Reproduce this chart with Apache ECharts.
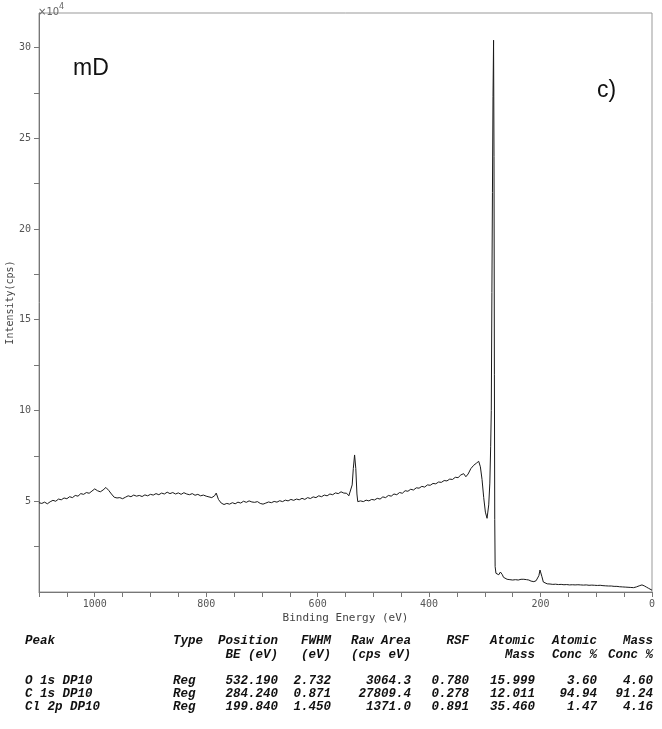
<!DOCTYPE html>
<html>
<head>
<meta charset="utf-8">
<script src="https://cdn.jsdelivr.net/npm/echarts@6/dist/echarts.min.js"></script>
<style>
html,body{margin:0;padding:0;background:#fff;}
#chart{width:662px;height:729px;}
</style>
</head>
<body>
<div id="chart"></div>
<script>
// Spectrum: binding energy (eV) and intensity (x10^4 cps)
const bindingEnergy = [1100,1095,1090,1085,1080,1075,1070,1065,1060,1055,1050,1045,1040,1035,1030,1025,1020,1015,1010,1005,1000,995,990,985,980,975,970,965,960,955,950,945,940,935,930,925,920,915,910,905,900,895,890,885,880,875,870,865,860,855,850,845,840,835,830,825,820,815,810,805,800,795,790,785,782,778,773,768,763,758,753,748,743,738,733,728,723,718,713,708,703,698,693,688,683,678,673,668,663,658,653,648,643,638,633,628,623,618,613,608,603,598,593,588,583,578,573,568,563,558,553,548,544,541,538,536,533.7,531.5,529.5,528,523,518,513,508,503,498,493,488,483,478,473,468,463,458,453,448,443,438,433,428,423,418,413,408,403,398,393,388,383,378,373,368,363,358,353,348,343,338,334,330,325,320,315,311,308,305,302,299,296,293,291,289.5,288.4,287.3,286.3,285.3,284.3,283.5,282.8,282.2,281.5,280,278,275,272,270.5,268.5,266.5,263,260,255,250,245,240,235,230,225,221,217,212,208,205,203,201,199.5,197.5,195,193,188,183,178,173,168,163,158,153,148,143,138,133,128,123,118,113,108,103,98,93,88,83,78,73,68,63,58,53,48,43,38,33,28,23,18,14,10,6,3,0];
const intensity = [4.92,4.88,4.95,4.86,4.97,5.05,5.0,5.12,5.08,5.18,5.14,5.25,5.2,5.32,5.28,5.42,5.38,5.48,5.44,5.56,5.68,5.58,5.52,5.62,5.76,5.6,5.4,5.22,5.18,5.2,5.14,5.22,5.3,5.25,5.34,5.28,5.32,5.26,5.35,5.3,5.38,5.34,5.42,5.36,5.45,5.4,5.5,5.42,5.48,5.4,5.46,5.38,5.47,5.4,5.36,5.42,5.33,5.38,5.3,5.34,5.28,5.24,5.2,5.3,5.45,5.1,4.9,4.82,4.88,4.84,4.92,4.86,4.95,4.9,5.0,4.94,5.02,4.96,4.94,4.98,4.88,4.84,4.9,4.96,4.92,4.99,4.95,5.03,4.98,5.06,5.02,5.1,5.05,5.12,5.08,5.16,5.1,5.2,5.15,5.24,5.2,5.3,5.25,5.34,5.3,5.4,5.36,5.46,5.42,5.52,5.45,5.44,5.3,5.26,5.9,6.8,7.55,6.8,5.4,4.98,5.02,4.98,5.06,5.02,5.1,5.07,5.16,5.12,5.24,5.2,5.32,5.28,5.4,5.36,5.48,5.44,5.58,5.55,5.66,5.62,5.74,5.72,5.82,5.78,5.9,5.88,5.98,5.96,6.06,6.04,6.14,6.12,6.22,6.2,6.32,6.3,6.45,6.52,6.35,6.5,6.8,6.98,7.1,7.2,6.9,6.2,5.2,4.4,4.06,4.8,6.0,8.0,10.0,16.5,22.0,27.3,30.4,24.0,12.0,4.0,1.4,1.03,0.97,0.95,1.1,1.21,0.95,0.81,0.74,0.7,0.68,0.66,0.68,0.66,0.7,0.7,0.68,0.66,0.6,0.57,0.62,0.7,0.9,1.21,1.1,0.84,0.55,0.48,0.45,0.44,0.42,0.43,0.41,0.42,0.4,0.41,0.39,0.4,0.39,0.4,0.39,0.38,0.39,0.37,0.38,0.37,0.36,0.37,0.35,0.34,0.33,0.33,0.31,0.31,0.29,0.28,0.27,0.26,0.25,0.24,0.28,0.34,0.39,0.34,0.27,0.2,0.14,0.1];

const xTickValues = [0,50,100,150,200,250,300,350,400,450,500,550,600,650,700,750,800,850,900,950,1000,1050,1100];
const xLabelValues = [0,200,400,600,800,1000];
const yTickValues = [2.5,5,7.5,10,12.5,15,17.5,20,22.5,25,27.5,30];
const yLabelValues = [5,10,15,20,25,30];

// Quantification table
const headerLine1 = ['Peak','Type','Position','FWHM','Raw Area','RSF','Atomic','Atomic','Mass'];
const headerLine2 = ['','','BE (eV)','(eV)','(cps eV)','','Mass','Conc %','Conc %'];
const peakNames = ['O 1s DP10','C 1s DP10','Cl 2p DP10'];
const peakTypes = ['Reg','Reg','Reg'];
const positionBE = ['532.190','284.240','199.840'];
const fwhm = ['2.732','0.871','1.450'];
const rawArea = ['3064.3','27809.4','1371.0'];
const rsf = ['0.780','0.278','0.891'];
const atomicMass = ['15.999','12.011','35.460'];
const atomicConc = ['3.60','94.94','1.47'];
const massConc = ['4.60','91.24','4.16'];

const chart = echarts.init(document.getElementById('chart'), null, {renderer:'canvas'});

const seriesData = bindingEnergy.map((e,i)=>[e,intensity[i]]);

const colX = [25,173,278,331,411,469,535,597,653];
const colAlign = ['left','left','right','right','right','right','right','right','right'];
const tableFont = 'bold italic 12.5px "Liberation Mono", monospace';
const graphics = [];
function addText(x,y,txt,align){
  if(!txt) return;
  graphics.push({type:'text', x:x, y:y, style:{text:txt, font:tableFont, fill:'#111', textAlign:align, textVerticalAlign:'middle'}});
}
headerLine1.forEach((t,i)=>addText(colX[i],641,t,colAlign[i]));
headerLine2.forEach((t,i)=>addText(colX[i],655,t,colAlign[i]));
const columns = [peakNames,peakTypes,positionBE,fwhm,rawArea,rsf,atomicMass,atomicConc,massConc];
const rowY = [681,694,707];
for(let r=0;r<peakNames.length;r++){
  columns.forEach((col,i)=>addText(colX[i],rowY[r],col[r],colAlign[i]));
}
graphics.push({type:'text', x:73, y:57, style:{text:'mD', font:'23px "Liberation Sans", Arial, sans-serif', fill:'#111'}});
graphics.push({type:'text', x:597, y:79, style:{text:'c)', font:'23px "Liberation Sans", Arial, sans-serif', fill:'#111'}});
graphics.push({type:'text', x:38, y:2, style:{rich:{a:{fontSize:10,fontFamily:'DejaVu Sans',fill:'#666', padding:[5,0,0,0]},b:{fontSize:8,fontFamily:'DejaVu Sans',fill:'#666',padding:[0,0,5,0]}}, text:'{a|×10}{b|4}'}});

const option = {
  animation:false,
  backgroundColor:'#fff',
  grid:{left:39, right:10, top:13, bottom:137, show:true, borderColor:'#999', borderWidth:1, containLabel:false, outerBoundsMode:'none'},
  xAxis:{
    type:'value', min:0, max:1100, inverse:true,
    name:'Binding Energy (eV)', nameLocation:'middle', nameGap:21, nameMoveOverlap:false,
    nameTextStyle:{fontFamily:'DejaVu Sans Mono', fontSize:11, color:'#444'},
    axisLine:{show:true, onZero:false, lineStyle:{color:'#777', width:1}},
    axisTick:{show:true, customValues:xTickValues, length:5, lineStyle:{color:'#777'}},
    axisLabel:{customValues:xLabelValues, formatter:v=>String(v), fontFamily:'DejaVu Sans Mono', fontSize:10, color:'#555', margin:7},
    splitLine:{show:false}
  },
  yAxis:{
    type:'value', min:0, max:31.9,
    name:'Intensity(cps)', nameLocation:'middle', nameGap:24, nameRotate:90, nameMoveOverlap:false,
    nameTextStyle:{fontFamily:'DejaVu Sans Mono', fontSize:10, color:'#444'},
    axisLine:{show:true, onZero:false, lineStyle:{color:'#777', width:1}},
    axisTick:{show:true, customValues:yTickValues, length:5, lineStyle:{color:'#777'}},
    axisLabel:{customValues:yLabelValues, formatter:v=>String(v), fontFamily:'DejaVu Sans Mono', fontSize:10, color:'#555', margin:8},
    splitLine:{show:false}
  },
  series:[{
    type:'line', data:seriesData, showSymbol:false, symbol:'none',
    lineStyle:{color:'#1a1a1a', width:1}, silent:true
  }],
  graphic:graphics
};
chart.setOption(option);
</script>
</body>
</html>
